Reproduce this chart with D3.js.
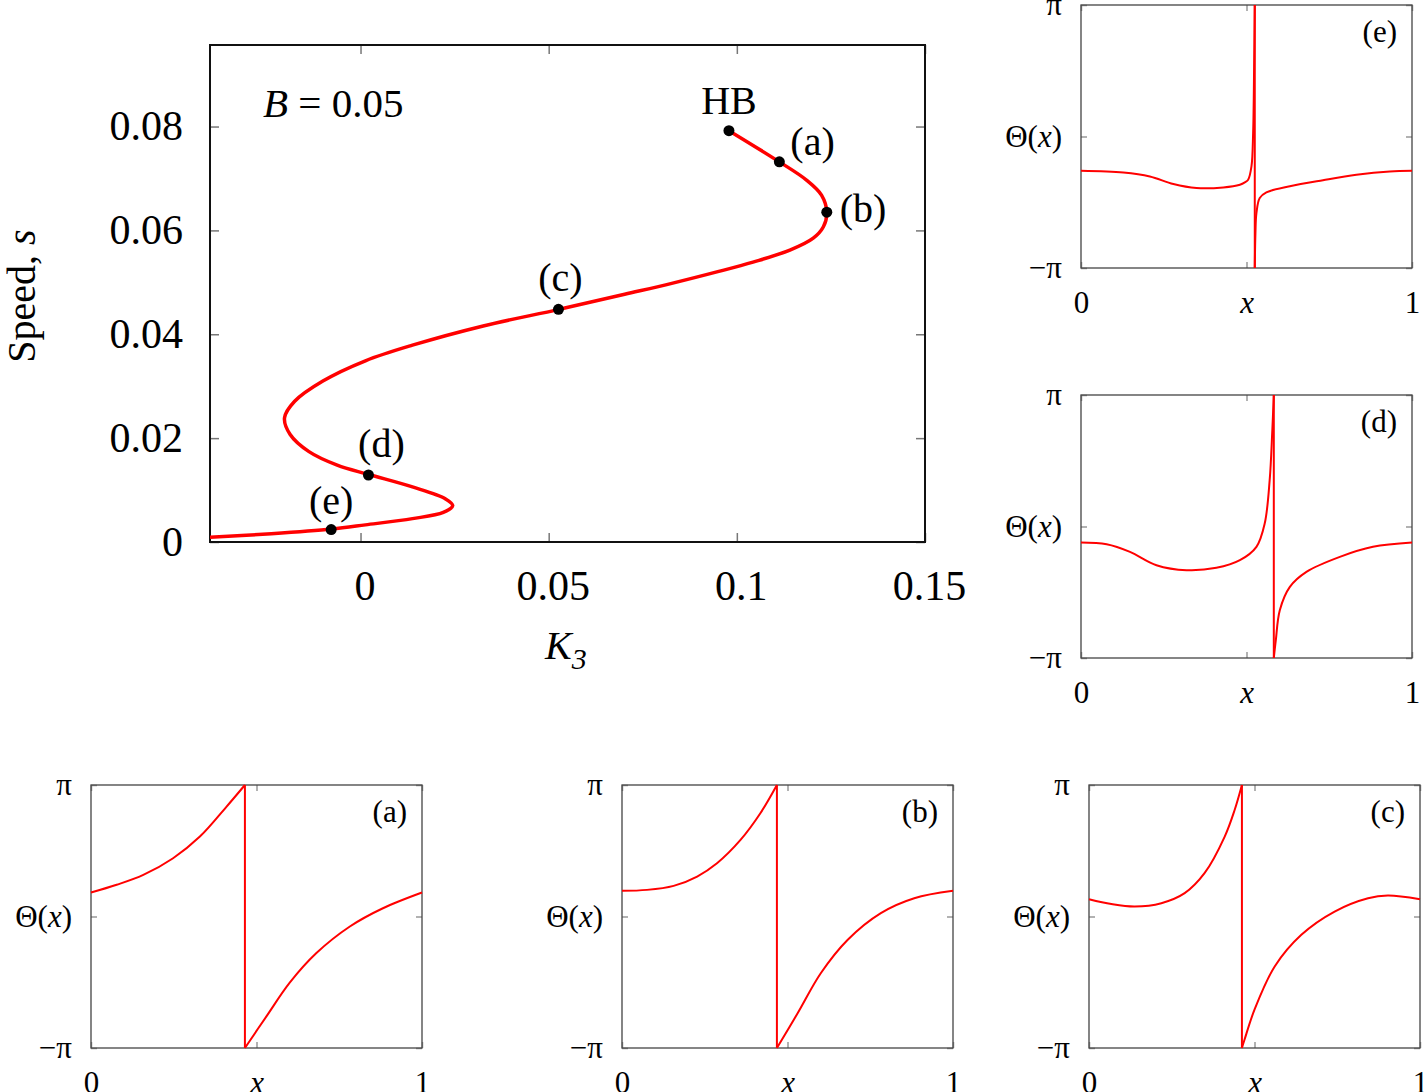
<!DOCTYPE html>
<html>
<head>
<meta charset="utf-8">
<script src="https://cdn.jsdelivr.net/npm/d3@7"></script>
<style>
  body { margin: 0; background: #fff; }
  text { font-family: "Liberation Serif", "Times New Roman", serif; fill: #000; }
</style>
</head>
<body>
<script>
  // branch of travelling waves, B = 0.05
  var mainK3 = [0.0979, 0.1113, 0.1185, 0.1225, 0.1239, 0.1230, 0.1203, 0.1141, 0.1043, 0.0952,
                0.0827, 0.0702, 0.0528, 0.0326, 0.0138, 0.0013, -0.0100, -0.0175, -0.0202, -0.0187,
                -0.0137, -0.0062, 0.0022, 0.0138, 0.0226, 0.0245, 0.0220, 0.0138, 0.0013, -0.0077,
                -0.0237, -0.0400];
  var mainSpeed = [0.0792, 0.0732, 0.0697, 0.0668, 0.0635, 0.0607, 0.0585, 0.0562, 0.0539, 0.0521,
                   0.0498, 0.0477, 0.0448, 0.0416, 0.0379, 0.0349, 0.0310, 0.0271, 0.0239, 0.0207,
                   0.0174, 0.0148, 0.0130, 0.0106, 0.0083, 0.0070, 0.0057, 0.0045, 0.0033, 0.0025,
                   0.0016, 0.0009];

  var markerNames = ["HB", "(a)", "(b)", "(c)", "(d)", "(e)"];
  var markerK3 = [0.0979, 0.1113, 0.1239, 0.0526, 0.0021, -0.0078];
  var markerSpeed = [0.0792, 0.0732, 0.0635, 0.0448, 0.0129, 0.0024];

  var xTicksMain = [0, 0.05, 0.1, 0.15];
  var yTicksMain = [0, 0.02, 0.04, 0.06, 0.08];

  // profiles Theta(x): branch before the jump and after it
  var aLeftX = [0, 0.0775, 0.158, 0.248, 0.329, 0.409, 0.465];
  var aLeftT = [0.572, 0.757, 0.993, 1.392, 1.909, 2.62, Math.PI];
  var aRightX = [0.465, 0.530, 0.601, 0.681, 0.782, 0.882, 1];
  var aRightT = [-Math.PI, -2.386, -1.575, -0.874, -0.239, 0.197, 0.572];

  var bLeftX = [0, 0.0755, 0.156, 0.227, 0.287, 0.358, 0.418, 0.468];
  var bLeftT = [0.613, 0.636, 0.732, 0.955, 1.272, 1.829, 2.466, Math.PI];
  var bRightX = [0.468, 0.531, 0.601, 0.682, 0.782, 0.883, 1];
  var bRightT = [-Math.PI, -2.306, -1.351, -0.556, 0.08, 0.436, 0.613];

  var cLeftX = [0, 0.0675, 0.138, 0.2185, 0.289, 0.349, 0.410, 0.440, 0.462];
  var cLeftT = [0.413, 0.298, 0.239, 0.318, 0.557, 1.034, 1.909, 2.545, Math.PI];
  var cRightX = [0.462, 0.470, 0.500, 0.561, 0.6415, 0.742, 0.843, 0.903, 1];
  var cRightT = [-Math.PI, -2.94, -2.226, -1.193, -0.437, 0.119, 0.437, 0.501, 0.413];

  var dLeftX = [0, 0.0775, 0.148, 0.228, 0.319, 0.409, 0.480, 0.530, 0.555, 0.570, 0.578, 0.5825];
  var dLeftT = [-0.383, -0.422, -0.605, -0.924, -1.044, -0.988, -0.805, -0.486, 0.07, 1.108, 2.30, Math.PI];
  var dRightX = [0.5825, 0.5885, 0.6006, 0.631, 0.681, 0.782, 0.882, 1];
  var dRightT = [-Math.PI, -2.72, -2.0, -1.443, -1.085, -0.726, -0.486, -0.383];

  var eLeftX = [0, 0.128, 0.208, 0.279, 0.349, 0.430, 0.480, 0.495, 0.505, 0.515, 0.520, 0.523, 0.525];
  var eLeftT = [-0.819, -0.859, -0.954, -1.137, -1.232, -1.217, -1.153, -1.097, -1.034, -0.716, 0.08, 1.67, Math.PI];
  var eRightX = [0.525, 0.527, 0.530, 0.540, 0.560, 0.631, 0.731, 0.832, 0.933, 1];
  var eRightT = [-Math.PI, -2.31, -1.83, -1.47, -1.336, -1.19, -1.045, -0.915, -0.835, -0.819];

  var profileXTicks = [0, 0.5, 1];
  var profileXLabels = ["0", "x", "1"];
  var profileYTicks = [-Math.PI, 0, Math.PI];
  var profileYLabels = ["\u2212\u03c0", "\u0398(x)", "\u03c0"];

  var svg = d3.select("body").append("svg")
      .attr("width", 1425)
      .attr("height", 1092);

  // ---------- main bifurcation diagram ----------
  var m = {left: 210, top: 45, width: 715, height: 497};

  var xScale = d3.scaleLinear().domain([-0.04, 0.15]).range([0, m.width]);
  var yScale = d3.scaleLinear().domain([0, 0.0957]).range([m.height, 0]);

  var g = svg.append("g").attr("transform", "translate(" + m.left + "," + m.top + ")");

  g.append("clipPath").attr("id", "mainClip")
    .append("rect").attr("width", m.width).attr("height", m.height);

  function styleAxis(sel, size, tickColor) {
    sel.select(".domain").remove();
    sel.selectAll(".tick line").attr("stroke", tickColor).attr("stroke-width", 1.5);
    sel.selectAll(".tick text")
      .attr("font-family", "Liberation Serif, Times New Roman, serif")
      .attr("font-size", size + "px")
      .attr("fill", "#000");
  }

  g.append("g")
      .attr("transform", "translate(0," + m.height + ")")
      .call(d3.axisBottom(xScale).tickValues(xTicksMain).tickSizeInner(-9).tickSizeOuter(0)
            .tickPadding(28).tickFormat(function(d) { return String(d); }))
      .call(styleAxis, 42, "#777")
      .selectAll(".tick text").attr("dx", 4);

  g.append("g")
      .call(d3.axisTop(xScale).tickValues(xTicksMain).tickSizeInner(-9).tickSizeOuter(0).tickFormat(""))
      .call(styleAxis, 42, "#777");

  g.append("g")
      .call(d3.axisLeft(yScale).tickValues(yTicksMain).tickSizeInner(-9).tickSizeOuter(0)
            .tickPadding(27).tickFormat(function(d) { return d === 0 ? "0" : d3.format(".2f")(d); }))
      .call(styleAxis, 42, "#777");

  g.append("g")
      .attr("transform", "translate(" + m.width + ",0)")
      .call(d3.axisRight(yScale).tickValues(yTicksMain).tickSizeInner(-9).tickSizeOuter(0).tickFormat(""))
      .call(styleAxis, 42, "#777");

  g.append("rect")
      .attr("width", m.width).attr("height", m.height)
      .attr("fill", "none").attr("stroke", "#111").attr("stroke-width", 2);

  var mainLine = d3.line()
      .x(function(d) { return xScale(d[0]); })
      .y(function(d) { return yScale(d[1]); })
      .curve(d3.curveCatmullRom.alpha(0.5));

  g.append("path")
      .attr("clip-path", "url(#mainClip)")
      .attr("d", mainLine(d3.zip(mainK3, mainSpeed)))
      .attr("fill", "none")
      .attr("stroke", "#ff0000")
      .attr("stroke-width", 3.5);

  var markers = markerNames.map(function(n, i) { return {name: n, k: markerK3[i], s: markerSpeed[i]}; });
  // label placement relative to each dot
  var labelPos = {
    "HB": {dx: 0, dy: -17, anchor: "middle"},
    "(a)": {dx: 11, dy: -7, anchor: "start"},
    "(b)": {dx: 13, dy: 10, anchor: "start"},
    "(c)": {dx: 2, dy: -18, anchor: "middle"},
    "(d)": {dx: 13, dy: -18, anchor: "middle"},
    "(e)": {dx: 0, dy: -16, anchor: "middle"}
  };

  g.selectAll(".dot")
      .data(markers)
      .enter().append("circle")
      .attr("class", "dot")
      .attr("cx", function(d) { return xScale(d.k); })
      .attr("cy", function(d) { return yScale(d.s); })
      .attr("r", 5.5)
      .attr("fill", "#000");

  g.selectAll(".dotlabel")
      .data(markers)
      .enter().append("text")
      .attr("class", "dotlabel")
      .attr("x", function(d) { return xScale(d.k) + labelPos[d.name].dx; })
      .attr("y", function(d) { return yScale(d.s) + labelPos[d.name].dy; })
      .attr("text-anchor", function(d) { return labelPos[d.name].anchor; })
      .attr("font-size", "40px")
      .text(function(d) { return d.name; });

  var bText = g.append("text").attr("x", 53).attr("y", 72).attr("font-size", "41px");
  bText.append("tspan").attr("font-style", "italic").text("B");
  bText.append("tspan").text(" = 0.05");

  var kText = svg.append("text").attr("x", 545).attr("y", 659).attr("font-size", "40px");
  kText.append("tspan").attr("font-style", "italic").text("K");
  kText.append("tspan").attr("font-style", "italic").attr("font-size", "30px").attr("dy", 10).text("3");

  var sText = svg.append("text")
      .attr("transform", "translate(35,296) rotate(-90)")
      .attr("text-anchor", "middle")
      .attr("font-size", "40px");
  sText.append("tspan").text("Speed, ");
  sText.append("tspan").attr("font-style", "italic").text("s");

  // ---------- profile panels ----------
  var panels = [
    {name: "(a)", left: 91, top: 785, lx: aLeftX, lt: aLeftT, rx: aRightX, rt: aRightT},
    {name: "(b)", left: 622, top: 785, lx: bLeftX, lt: bLeftT, rx: bRightX, rt: bRightT},
    {name: "(c)", left: 1089, top: 785, lx: cLeftX, lt: cLeftT, rx: cRightX, rt: cRightT},
    {name: "(d)", left: 1081, top: 395, lx: dLeftX, lt: dLeftT, rx: dRightX, rt: dRightT},
    {name: "(e)", left: 1081, top: 5, lx: eLeftX, lt: eLeftT, rx: eRightX, rt: eRightT}
  ];
  var pw = 331, ph = 263;

  var px = d3.scaleLinear().domain([0, 1]).range([0, pw]);
  var py = d3.scaleLinear().domain([-Math.PI, Math.PI]).range([ph, 0]);

  var profileLine = d3.line()
      .x(function(d) { return px(d[0]); })
      .y(function(d) { return py(d[1]); })
      .curve(d3.curveCatmullRom.alpha(0.5));

  panels.forEach(function(p) {
    var pg = svg.append("g").attr("transform", "translate(" + p.left + "," + p.top + ")");

    pg.append("g")
        .attr("transform", "translate(0," + ph + ")")
        .call(d3.axisBottom(px).tickValues(profileXTicks).tickSizeInner(-6).tickSizeOuter(0)
              .tickPadding(23).tickFormat(function(d, i) { return profileXLabels[i]; }))
        .call(styleAxis, 31, "#999")
        .selectAll(".tick text")
        .attr("font-style", function(d, i) { return i === 1 ? "italic" : null; });

    pg.append("g")
        .call(d3.axisTop(px).tickValues(profileXTicks).tickSizeInner(-6).tickSizeOuter(0).tickFormat(""))
        .call(styleAxis, 31, "#999");

    var yAx = pg.append("g")
        .call(d3.axisLeft(py).tickValues(profileYTicks).tickSizeInner(-6).tickSizeOuter(0)
              .tickPadding(19).tickFormat(function(d, i) { return profileYLabels[i]; }))
        .call(styleAxis, 31, "#999");
    yAx.selectAll(".tick text").each(function(d, i) {
      if (i !== 1) return;
      var t = d3.select(this).text("");
      t.append("tspan").text("\u0398(");
      t.append("tspan").attr("font-style", "italic").text("x");
      t.append("tspan").text(")");
    });

    pg.append("g")
        .attr("transform", "translate(" + pw + ",0)")
        .call(d3.axisRight(py).tickValues(profileYTicks).tickSizeInner(-6).tickSizeOuter(0).tickFormat(""))
        .call(styleAxis, 31, "#999");

    pg.append("rect")
        .attr("width", pw).attr("height", ph)
        .attr("fill", "none").attr("stroke", "#444").attr("stroke-width", 1.3);

    var left = d3.zip(p.lx, p.lt), right = d3.zip(p.rx, p.rt);
    [left, right].forEach(function(seg) {
      pg.append("path")
          .attr("d", profileLine(seg))
          .attr("fill", "none").attr("stroke", "#ff0000").attr("stroke-width", 2);
    });
    // the jump from pi to -pi
    pg.append("path")
        .attr("d", d3.line().x(function(d) { return px(d[0]); }).y(function(d) { return py(d[1]); })
              ([left[left.length - 1], right[0]]))
        .attr("fill", "none").attr("stroke", "#ff0000").attr("stroke-width", 2);

    pg.append("text")
        .attr("x", pw - 15).attr("y", 37)
        .attr("text-anchor", "end")
        .attr("font-size", "31px")
        .text(p.name);
  });
</script>
</body>
</html>
